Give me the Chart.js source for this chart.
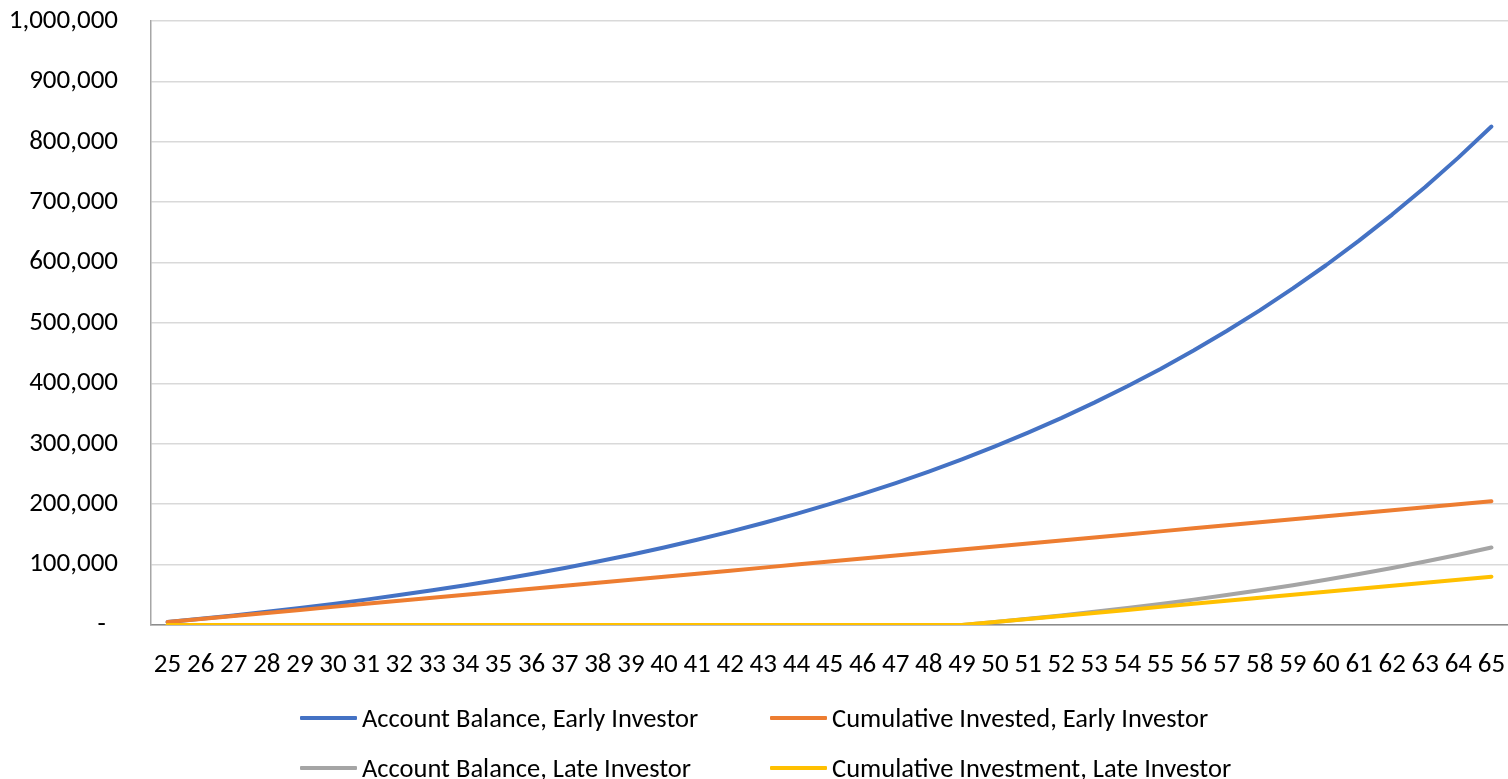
<!DOCTYPE html>
<html>
<head>
<meta charset="utf-8">
<script src="https://cdn.jsdelivr.net/npm/chart.js@4.4.1/dist/chart.umd.min.js"></script>
<style>
  html, body { margin: 0; padding: 0; background: #fff; }
  #wrap { position: relative; width: 1508px; height: 779px; font-family: Carlito, Calibri, Lato, sans-serif; }
  #c { position: absolute; left: 0; top: 0; }
  .leg { position: absolute; display: flex; align-items: center; font-size: 26.5px; color: #000; white-space: nowrap; }
  .leg .ln { width: 57px; height: 4px; margin-right: 5px; border-radius: 1px; }
</style>
</head>
<body>
<div id="wrap">
  <canvas id="c" width="1508" height="779"></canvas>
  <div id="legend"></div>
</div>
<script>
const ages = [25,26,27,28,29,30,31,32,33,34,35,36,37,38,39,40,41,42,43,44,45,46,47,48,49,50,51,52,53,54,55,56,57,58,59,60,61,62,63,64,65];

const earlyBalance = [5000,10300,15900,21900,28200,34900,42000,49500,57500,65900,74900,84400,94400,105100,116400,128400,141100,154500,168800,183900,200000,217000,235000,254100,274300,295800,318500,342600,368200,395300,424000,454400,486700,520900,557200,595600,636300,679500,725300,773800,825200];

const earlyInvested = [5000,10000,15000,20000,25000,30000,35000,40000,45000,50000,55000,60000,65000,70000,75000,80000,85000,90000,95000,100000,105000,110000,115000,120000,125000,130000,135000,140000,145000,150000,155000,160000,165000,170000,175000,180000,185000,190000,195000,200000,205000];

const lateBalance = [0,0,0,0,0,0,0,0,0,0,0,0,0,0,0,0,0,0,0,0,0,0,0,0,0,5000,10300,15900,21900,28200,34900,42000,49500,57500,65900,74900,84400,94400,105100,116400,128400];

const lateInvested = [0,0,0,0,0,0,0,0,0,0,0,0,0,0,0,0,0,0,0,0,0,0,0,0,0,5000,10000,15000,20000,25000,30000,35000,40000,45000,50000,55000,60000,65000,70000,75000,80000];

const seriesNames = ["Account Balance, Early Investor","Cumulative Invested, Early Investor","Account Balance, Late Investor","Cumulative Investment, Late Investor"];
const seriesColors = ["#4472C4","#ED7D31","#A5A5A5","#FFC000"];
const seriesData = [earlyBalance, earlyInvested, lateBalance, lateInvested];

const yTickMin = 0, yTickMax = 1000000, yTickStep = 100000;

const FONT = "Carlito, Calibri, Lato, sans-serif";

const datasets = seriesData.map((d, i) => ({
  label: seriesNames[i],
  data: d,
  borderColor: seriesColors[i],
  backgroundColor: seriesColors[i],
  borderWidth: 4,
  pointRadius: 0,
  pointHoverRadius: 0,
  tension: 0,
  fill: false,
  order: 3 - i,
  borderCapStyle: 'round',
  borderJoinStyle: 'round'
}));

new Chart(document.getElementById('c'), {
  type: 'line',
  data: { labels: ages, datasets },
  options: {
    responsive: false,
    animation: false,
    events: [],
    layout: { padding: { top: 21, right: 0, bottom: 94, left: 0 } },
    plugins: { legend: { display: false }, tooltip: { enabled: false } },
    scales: {
      x: {
        offset: true,
        grid: { display: false, drawTicks: true, tickLength: 24 },
        border: { display: true, color: '#8c8c8c', width: 1.5 },
        ticks: {
          autoSkip: false, maxRotation: 0, minRotation: 0,
          padding: 0,
          color: '#000',
          font: { family: FONT, size: 27 }
        },
        afterFit: s => { s.height = 60; }
      },
      y: {
        min: yTickMin, max: yTickMax,
        grid: { color: '#d9d9d9', lineWidth: 1.5, drawTicks: true, tickLength: 33, tickColor: 'rgba(0,0,0,0)' },
        border: { display: true, color: '#a6a6a6', width: 1.5 },
        ticks: {
          stepSize: yTickStep,
          padding: 0,
          color: '#000',
          font: { family: FONT, size: 27 },
          callback: v => v === 0 ? '-  ' : Number(v).toLocaleString('en-US')
        },
        afterFit: s => { s.width = 151; }
      }
    }
  }
});

// HTML legend (two columns, two rows as in the reference)
const legPos = [[300, 718], [770, 718], [300, 768], [770, 768]];
const leg = document.getElementById('legend');
seriesNames.forEach((n, i) => {
  const el = document.createElement('div');
  el.className = 'leg';
  el.style.left = legPos[i][0] + 'px';
  el.style.top = (legPos[i][1] - 17) + 'px';
  el.style.height = '34px';
  el.innerHTML = '<span class="ln" style="background:' + seriesColors[i] + '"></span><span>' + n + '</span>';
  leg.appendChild(el);
});
</script>
</body>
</html>
